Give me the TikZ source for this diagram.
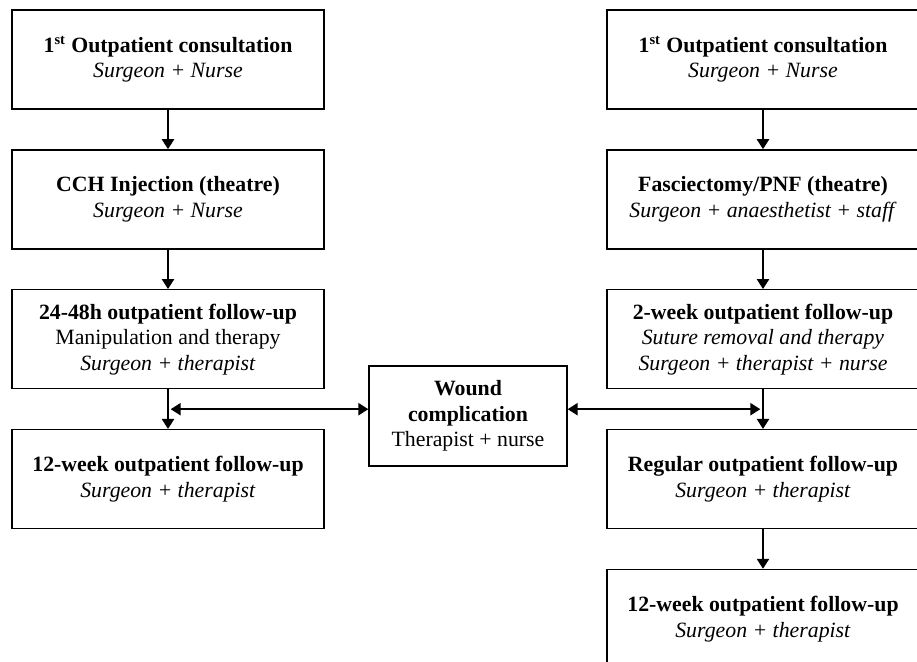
\documentclass[tikz,border=0pt]{standalone}
\usepackage{fontspec}
\setmainfont{Liberation Serif}
\usepackage{tikz}
\usetikzlibrary{arrows.meta,positioning,calc}
\tikzset{
  visit/.style={draw=black, thick, fill=white, align=center,
    minimum width=171.8pt, minimum height=54.5pt, inner sep=2pt,
    font=\fontsize{12pt}{14pt}\selectfont},
  sidevisit/.style={visit, minimum width=109pt, minimum height=55pt},
  wire/.style={-{Triangle[length=5.5pt, width=6.8pt]}, thick},
  twowire/.style={{Triangle[length=5.5pt, width=6.8pt]}-{Triangle[length=5.5pt, width=6.8pt]},
    thick, shorten <=1.5pt}
}

\begin{document}
\begin{tikzpicture}[x=0.5505pt, y=-0.5505pt, node distance=21.7pt]
  \useasboundingbox (0,0) rectangle (917,661);
  \clip (0,0) rectangle (917,661);
  % collagenase pathway
  \node[visit] (cchfirst) at (168,59.5) {\textbf{1\textsuperscript{st} Outpatient consultation}\\\textit{Surgeon + Nurse}};
  \node[visit, below=of cchfirst] (cchinject) {\textbf{CCH Injection (theatre)}\\\textit{Surgeon + Nurse}};
  \node[visit, below=of cchinject] (cchcheck) {\textbf{24-48h outpatient follow-up}\\Manipulation and therapy\\\textit{Surgeon + therapist}};
  \node[visit, below=of cchcheck] (cchlate) {\textbf{12-week outpatient follow-up}\\\textit{Surgeon + therapist}};
  % surgical pathway
  \node[visit] (surgfirst) at (763,59.5) {\textbf{1\textsuperscript{st} Outpatient consultation}\\\textit{Surgeon + Nurse}};
  \node[visit, below=of surgfirst] (surgtheatre) {\textbf{Fasciectomy/PNF (theatre)}\\\textit{Surgeon + anaesthetist + staff}};
  \node[visit, below=of surgtheatre] (surgcheck) {\textbf{2-week outpatient follow-up}\\\textit{Suture removal and therapy}\\\textit{Surgeon + therapist + nurse}};
  \node[visit, below=of surgcheck] (surgregular) {\textbf{Regular outpatient follow-up}\\\textit{Surgeon + therapist}};
  \node[visit, below=of surgregular] (surglate) {\textbf{12-week outpatient follow-up}\\\textit{Surgeon + therapist}};
  % shared complication
  \node[sidevisit] (wound) at (468,416) {\textbf{Wound}\\\textbf{complication}\\Therapist + nurse};

  \draw[wire] (cchfirst) -- (cchinject);
  \draw[wire] (cchinject) -- (cchcheck);
  \draw[wire] (cchcheck) -- (cchlate);
  \draw[wire] (surgfirst) -- (surgtheatre);
  \draw[wire] (surgtheatre) -- (surgcheck);
  \draw[wire] (surgcheck) -- (surgregular);
  \draw[wire] (surgregular) -- (surglate);

  \coordinate (cchjoin) at ($(cchcheck.south)!0.5!(cchlate.north)$);
  \coordinate (surgjoin) at ($(surgcheck.south)!0.5!(surgregular.north)$);
  \draw[twowire] (cchjoin) -- (cchjoin -| wound.west);
  \draw[twowire] (surgjoin) -- (surgjoin -| wound.east);
\end{tikzpicture}
\end{document}
